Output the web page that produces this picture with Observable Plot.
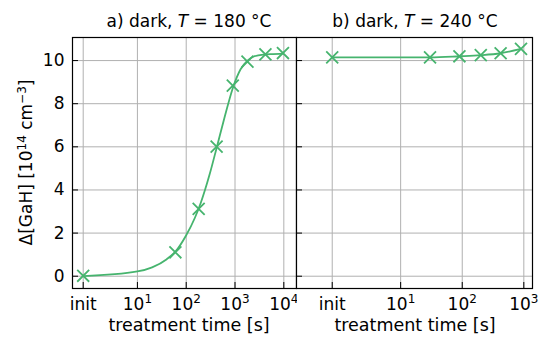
<!DOCTYPE html>
<html><head><meta charset="utf-8">
<script src="https://cdn.jsdelivr.net/npm/d3@7"></script>
<script src="https://cdn.jsdelivr.net/npm/@observablehq/plot@0.6"></script>
<style>
body{margin:0;background:#fff;font-family:"DejaVu Sans",sans-serif;}
#wrap{position:relative;width:546px;height:338px;overflow:hidden;background:#fff}
#wrap > svg{position:absolute;top:0}
</style></head>
<body><div id="wrap"></div>
<script>
// ---- data ----
// panel a) dark, T = 180 °C : measured points
const timesA = [0, 60, 180, 420, 900, 1800, 4200, 9600];
const valuesA = [0.02, 1.11, 3.12, 6.01, 8.84, 9.95, 10.29, 10.35];
// panel a) smooth curve
const curveTimesA = [0, 10, 20, 40, 60, 100, 150, 200, 300, 420, 600, 900, 1300, 1800, 2500, 4000, 6000, 9600];
const curveValuesA = [0, 0.22, 0.41, 0.79, 1.14, 1.9, 2.7, 3.42, 4.7, 5.95, 7.3, 8.72, 9.6, 10.0, 10.2, 10.28, 10.3, 10.32];
// panel b) dark, T = 240 °C
const timesB = [0, 30, 90, 200, 420, 900];
const valuesB = [10.15, 10.15, 10.2, 10.25, 10.34, 10.54];
// tick values and labels ("base^exp")
const xTicksA = [0, 10, 100, 1000, 10000];
const xLabelsA = ["init", "10^1", "10^2", "10^3", "10^4"];
const xTicksB = [0, 10, 100, 1000];
const xLabelsB = ["init", "10^1", "10^2", "10^3"];
const yTicks = [0, 2, 4, 6, 8, 10];
const titleA = ["a) dark, ", "T", " = 180 °C"];
const titleB = ["b) dark, ", "T", " = 240 °C"];
const xLabel = "treatment time [s]";

// symmetric-log transform (linear below 10 s, log above)
const LT = 10, LS = 1 / 0.9;
const u = t => t <= LT ? t / LT * LS : LS + Math.log10(t / LT);

const G = "#46b46e";
const W = 546, H = 338, MT = 37, MB = 50;
const FH = H - MT - MB;
const TICKFS = 17;

function supify(svg) {
  svg.querySelectorAll('g[aria-label="x-axis tick label"] text').forEach(t => {
    const s = t.textContent;
    if (!s.includes("^")) return;
    const [b, e] = s.split("^");
    t.textContent = "";
    const sel = d3.select(t);
    sel.append("tspan").text(b);
    sel.append("tspan").attr("dy", -7).attr("font-size", 12).text(e);
  });
}

function panel({left, width, ml, mr, xdom, ticks, labels, times, values, ctimes, cvalues, yAxis}) {
  const fw = width - ml - mr;
  const tu = ticks.map(u);
  const lab = new Map(tu.map((v, i) => [v, labels[i]]));
  const pts = times.map((t, i) => ({t: u(t), v: values[i]}));
  const cur = ctimes.map((t, i) => ({t: u(t), v: cvalues[i]}));
  const marks = [
    Plot.ruleX(tu, {stroke: "#b0b0b0", strokeWidth: 1}),
    Plot.ruleY(yTicks, {stroke: "#b0b0b0", strokeWidth: 1}),
    Plot.tickX(tu, {stroke: "black", strokeWidth: 1, insetTop: FH - 6}),
    Plot.tickY(yTicks, {stroke: "black", strokeWidth: 1, insetRight: fw - 6}),
    Plot.axisX(tu, {tickSize: 0, tickPadding: 9, tickFormat: d => lab.get(d), fontSize: TICKFS}),
    Plot.line(cur, {x: "t", y: "v", stroke: G, strokeWidth: 1.8, curve: "monotone-x"}),
    Plot.dot(pts, {x: "t", y: "v", symbol: "times", r: 5.5, stroke: G, strokeWidth: 1.8}),
    Plot.frame({stroke: "black", strokeWidth: 1.2})
  ];
  if (yAxis) marks.push(Plot.axisY(yTicks, {tickSize: 0, tickPadding: 8, fontSize: TICKFS, label: null}));
  const svg = Plot.plot({
    width, height: H, marginLeft: ml, marginRight: mr, marginTop: MT, marginBottom: MB,
    style: {background: "transparent", fontFamily: "DejaVu Sans", fontSize: TICKFS + "px", color: "black"},
    x: {type: "linear", domain: xdom, label: null},
    y: yAxis ? {type: "linear", domain: [-0.57, 11.07], label: null}
             : {type: "linear", domain: [-0.57, 11.07], label: null, axis: null},
    marks
  });
  supify(svg);
  svg.style.left = left + "px";
  return svg;
}

const wrap = document.getElementById("wrap");
wrap.appendChild(panel({left: 0, width: 297, ml: 72, mr: 1, xdom: [-0.219, 4.371],
  ticks: xTicksA, labels: xLabelsA, times: timesA, values: valuesA,
  ctimes: curveTimesA, cvalues: curveValuesA, yAxis: true}));
wrap.appendChild(panel({left: 250, width: 296, ml: 46, mr: 14, xdom: [-0.580, 3.252],
  ticks: xTicksB, labels: xLabelsB, times: timesB, values: valuesB,
  ctimes: timesB, cvalues: valuesB, yAxis: false}));

// overlay text: titles, axis labels
const ov = d3.select(wrap).append("svg").attr("width", W).attr("height", H)
  .style("left", "0px").style("font-family", "DejaVu Sans").style("pointer-events", "none");
function title(x, parts) {
  const t = ov.append("text").attr("x", x).attr("y", 27).attr("text-anchor", "middle").attr("font-size", 17);
  t.append("tspan").text(parts[0]);
  t.append("tspan").attr("font-style", "italic").text(parts[1]);
  t.append("tspan").text(parts[2]);
}
title(189, titleA);
title(415, titleB);
ov.append("text").attr("x", 189).attr("y", 331).attr("text-anchor", "middle").attr("font-size", 17.5).text(xLabel);
ov.append("text").attr("x", 415).attr("y", 331).attr("text-anchor", "middle").attr("font-size", 17.5).text(xLabel);
const yl = ov.append("text").attr("transform", "translate(32,162.5) rotate(-90)")
  .attr("text-anchor", "middle").attr("font-size", 17);
yl.append("tspan").text("Δ[GaH] [10");
yl.append("tspan").attr("dy", -6).attr("font-size", 12).text("14");
yl.append("tspan").attr("dy", 6).text(" cm");
yl.append("tspan").attr("dy", -6).attr("font-size", 12).text("−3");
yl.append("tspan").attr("dy", 6).text("]");
</script></body></html>
